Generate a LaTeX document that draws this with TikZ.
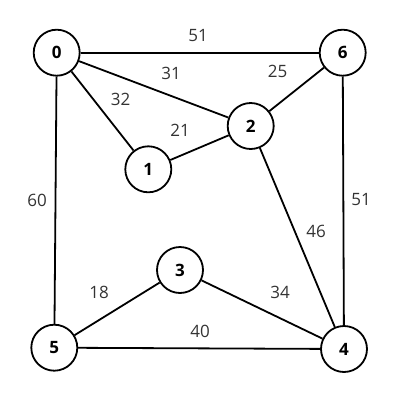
\documentclass[tikz,border=0pt]{standalone}
\usepackage{fontspec}
\setmainfont{Open Sans}
\begin{document}
\begin{tikzpicture}[x=1pt,y=-1pt,
  vtx/.style={circle,draw,line width=1.8pt,minimum size=46pt,inner sep=0pt,font=\fontsize{17}{17}\selectfont\bfseries,fill=white},
  edge/.style={line width=1.8pt},
  wlab/.style={font=\fontsize{17}{17}\selectfont,text=black!80}]
\useasboundingbox (0,0) rectangle (400,400);
\node[vtx] (n0) at (56.7,52.7) {0};
\node[vtx] (n6) at (342.7,52.7) {6};
\node[vtx] (n2) at (250.7,126) {2};
\node[vtx] (n1) at (148.3,169.3) {1};
\node[vtx] (n3) at (180,270) {3};
\node[vtx] (n5) at (54.3,347.7) {5};
\node[vtx] (n4) at (344,349) {4};
\begin{scope}[on background layer/.style={}]
\draw[edge] (n0) -- (n6);
\draw[edge] (n0) -- (n2);
\draw[edge] (n0) -- (n1);
\draw[edge] (n1) -- (n2);
\draw[edge] (n6) -- (n2);
\draw[edge] (n0) -- (n5);
\draw[edge] (n6) -- (n4);
\draw[edge] (n2) -- (n4);
\draw[edge] (n5) -- (n3);
\draw[edge] (n3) -- (n4);
\draw[edge] (n5) -- (n4);
\end{scope}
\node[wlab] (l06) at (198,36) {51};
\node[wlab] (l02) at (171,73) {31};
\node[wlab] (l62) at (277.7,71.7) {25};
\node[wlab] (l01) at (120.7,99) {32};
\node[wlab] (l12) at (180,130.7) {21};
\node[wlab] (l05) at (37,200) {60};
\node[wlab] (l64) at (361,200) {51};
\node[wlab] (l24) at (316,231) {46};
\node[wlab] (l53) at (99,292) {18};
\node[wlab] (l34) at (280,292.7) {34};
\node[wlab] (l54) at (200,331) {40};
\end{tikzpicture}
\end{document}
